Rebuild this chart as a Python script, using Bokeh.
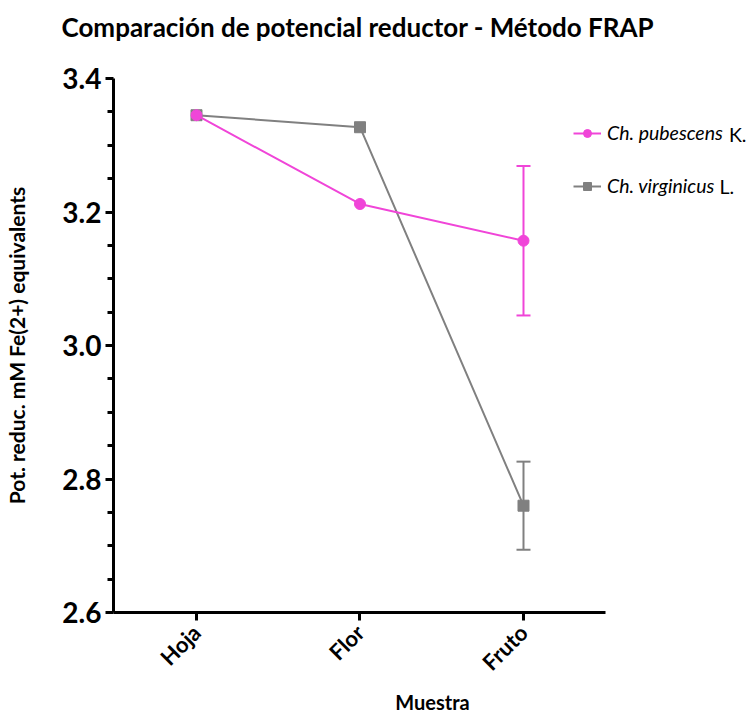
import math
from bokeh.plotting import figure
from bokeh.models import (ColumnDataSource, Range1d, FixedTicker, Title, Label,
                          Whisker, TeeHead, Legend, LegendItem)
from bokeh.embed import file_html
from bokeh.resources import INLINE

# ---- data ----
muestras = ["Hoja", "Flor", "Fruto"]
pubescens_media = [3.345, 3.212, 3.157]
pubescens_de = [0.0, 0.0, 0.112]
virginicus_media = [3.345, 3.327, 2.760]
virginicus_de = [0.0, 0.0, 0.066]
y_ticks = [2.6, 2.8, 3.0, 3.2, 3.4]
y_minor_ticks = [2.65, 2.7, 2.75, 2.85, 2.9, 2.95, 3.05, 3.1, 3.15, 3.25, 3.3, 3.35]
titulo = "Comparación de potencial reductor - Método FRAP"
especies = ["Ch. pubescens", "Ch. virginicus"]
autores = ["K.", "L."]

PINK = "#F045D8"
GRAY = "#808080"
FONT = "Lato"

pos = list(range(len(muestras)))

p = figure(width=751, height=717, x_range=Range1d(-0.5076, 3.3945),
           y_range=Range1d(2.6, 3.4), output_backend="svg", toolbar_location=None,
           title=None,
           min_border_left=113, min_border_right=0, min_border_top=78, min_border_bottom=105)

# spacer between frame and title, then the title itself
p.add_layout(Title(text=" ", text_font_size="10px", standoff=20), "above")
p.add_layout(Title(text=titulo, align="left", offset=-52, text_font=FONT,
                   text_font_size="26px", text_font_style="bold", text_color="black",
                   standoff=6), "above")

p.grid.visible = False
p.outline_line_color = None

# axes
p.yaxis.ticker = FixedTicker(ticks=y_ticks, minor_ticks=y_minor_ticks)
p.yaxis.major_label_overrides = {t: f"{t:.1f}" for t in y_ticks}
p.yaxis.axis_label = "Pot. reduc. mM Fe(2+) equivalents"
p.xaxis.ticker = FixedTicker(ticks=pos)
p.xaxis.major_label_overrides = {i: m for i, m in zip(pos, muestras)}
p.xaxis.bounds = (-0.5076, 2.5)
p.xaxis.axis_label = "Muestra"
for ax in (p.xaxis, p.yaxis):
    ax.axis_line_width = 3
    ax.axis_line_color = "black"
    ax.major_tick_line_width = 3
    ax.major_tick_line_color = "black"
    ax.major_tick_out = 8
    ax.major_tick_in = 0
    ax.axis_label_text_font = FONT
    ax.axis_label_text_font_style = "bold"
    ax.axis_label_text_font_size = "21px"
    ax.axis_label_text_color = "black"
    ax.major_label_text_font = FONT
    ax.major_label_text_font_style = "bold"
    ax.major_label_text_color = "black"
p.xaxis.minor_tick_line_color = None
p.yaxis.minor_tick_line_width = 3
p.yaxis.minor_tick_line_color = "black"
p.yaxis.minor_tick_out = 6
p.yaxis.minor_tick_in = 0
p.yaxis.major_label_text_font_size = "28px"
p.yaxis.major_label_standoff = 4
p.yaxis.axis_label_standoff = 30
p.xaxis.major_label_text_font_size = "22px"
p.xaxis.major_label_orientation = math.pi / 4
p.xaxis.major_label_standoff = 8
p.xaxis.axis_label_text_font_size = "20px"
p.xaxis.axis_label_standoff = 2

def err_src(media, de):
    keep = [i for i, e in enumerate(de) if e > 0]
    return ColumnDataSource(dict(x=[pos[i] for i in keep],
                                 lo=[media[i] - de[i] for i in keep],
                                 hi=[media[i] + de[i] for i in keep]))

src_p = ColumnDataSource(dict(x=pos, y=pubescens_media))
src_v = ColumnDataSource(dict(x=pos, y=virginicus_media))

for src, col in ((err_src(virginicus_media, virginicus_de), GRAY),
                 (err_src(pubescens_media, pubescens_de), PINK)):
    w = Whisker(base="x", upper="hi", lower="lo", source=src, line_color=col, line_width=2,
                upper_head=TeeHead(size=14, line_color=col, line_width=2),
                lower_head=TeeHead(size=14, line_color=col, line_width=2))
    p.add_layout(w)

lv = p.line("x", "y", source=src_v, line_color=GRAY, line_width=2)
sv = p.scatter("x", "y", source=src_v, marker="square", size=11, fill_color=GRAY, line_color=GRAY)
lp = p.line("x", "y", source=src_p, line_color=PINK, line_width=2)
sp = p.scatter("x", "y", source=src_p, marker="circle", size=11, fill_color=PINK, line_color=PINK)

legend = Legend(items=[LegendItem(label=especies[0], renderers=[lp, sp]),
                       LegendItem(label=especies[1], renderers=[lv, sv])],
                location=(460, 415), background_fill_alpha=0, border_line_color=None,
                padding=0, margin=0, spacing=30, glyph_width=28, glyph_height=20,
                label_standoff=6, label_text_font=FONT, label_text_font_size="19.5px",
                label_text_color="black",
                label_text_font_style="italic", label_height=20)
p.add_layout(legend)

# authority abbreviations in upright type, after the italic species names
for txt, lx, ly in zip(autores, [3.2565, 3.1985], [3.3161, 3.2382]):
    p.add_layout(Label(x=lx, y=ly, text=txt, text_font=FONT, text_font_size="19.5px",
                       text_color="black", text_baseline="middle", text_align="left"))

open("out.html", "w").write(file_html(p, INLINE))
